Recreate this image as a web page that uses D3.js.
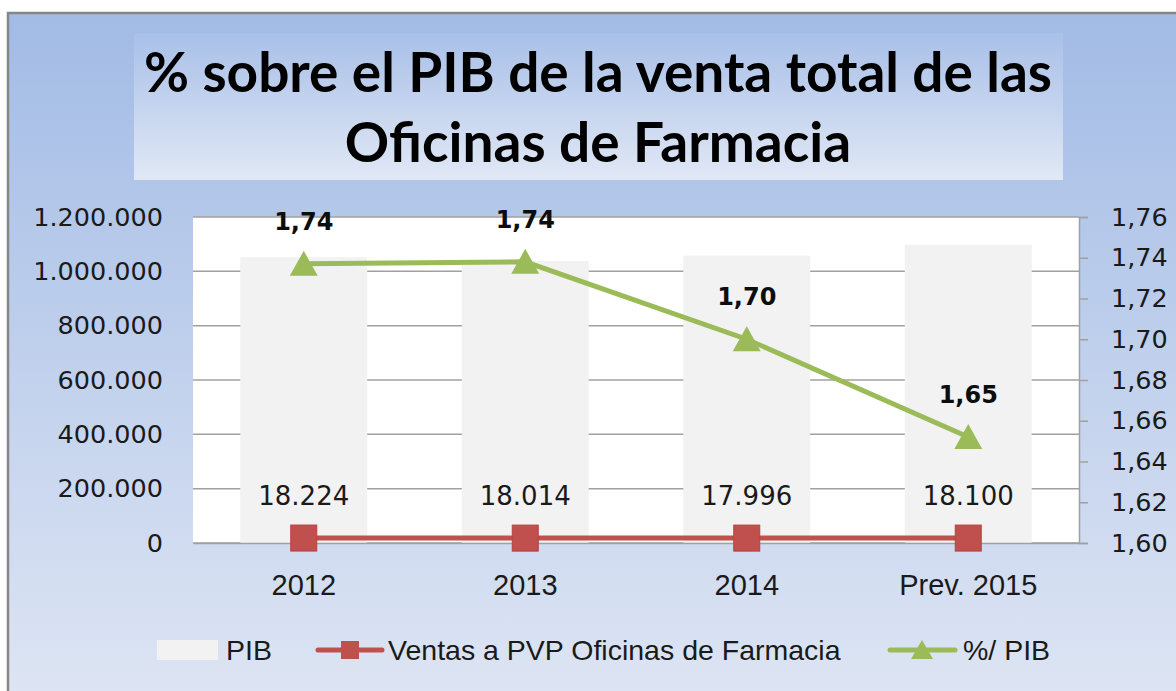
<!DOCTYPE html>
<html>
<head>
<meta charset="utf-8">
<script src="https://cdn.jsdelivr.net/npm/d3@7"></script>
<style>
body{margin:0;background:#fff;}
</style>
</head>
<body>
<script>
// data
var years = ["2012", "2013", "2014", "Prev. 2015"];
var pib = [1052000, 1038000, 1058000, 1098000];
var ventas = [18224, 18014, 17996, 18100];
var pctPib = [1.737, 1.738, 1.700, 1.652];
var leftTicks = [0, 200000, 400000, 600000, 800000, 1000000, 1200000];
var rightTicks = [1.60, 1.62, 1.64, 1.66, 1.68, 1.70, 1.72, 1.74, 1.76];
var titleLines = ["% sobre el PIB de la venta total de las", "Oficinas de Farmacia"];
var legendNames = ["PIB", "Ventas a PVP Oficinas de Farmacia", "%/ PIB"];

draw();
function draw(){
	var es = d3.formatLocale({decimal: ",", thousands: ".", grouping: [3], currency: ["", "€"]});
	var fmtInt = es.format(",d"), fmtPct = es.format(".2f");
	var red = "#c0504d", green = "#9bbb59", grid = "#a0a0a0";
	var sans = "'Liberation Sans', Arial, sans-serif", dj = "'DejaVu Sans', sans-serif";

	var svg = d3.select("body").append("svg")
		.attr("width", 1176).attr("height", 691);

	var defs = svg.append("defs");
	var bg = defs.append("linearGradient").attr("id", "bg")
		.attr("x1", 0).attr("y1", 0).attr("x2", 0).attr("y2", 1);
	bg.append("stop").attr("offset", 0).attr("stop-color", "#a2bbe5");
	bg.append("stop").attr("offset", 1).attr("stop-color", "#dfe6f4");
	var tg = defs.append("linearGradient").attr("id", "tg")
		.attr("x1", 0).attr("y1", 0).attr("x2", 0).attr("y2", 1);
	tg.append("stop").attr("offset", 0).attr("stop-color", "#a9c0e8");
	tg.append("stop").attr("offset", 1).attr("stop-color", "#e1e8f5");

	// frame
	svg.append("rect")
		.attr("x", 8).attr("y", 13).attr("width", 1190).attr("height", 700)
		.attr("fill", "url(#bg)").attr("stroke", "#868686").attr("stroke-width", 2.5);

	// title box
	svg.append("rect")
		.attr("x", 134).attr("y", 33).attr("width", 929).attr("height", 147)
		.attr("fill", "url(#tg)");
	svg.selectAll(".title").data(titleLines).enter().append("text")
		.attr("x", 598).attr("y", function(d, i){ return 92 + i * 70; })
		.attr("text-anchor", "middle")
		.style("font-family", "Lato, 'Open Sans', sans-serif").style("font-weight", "bold")
		.attr("font-size", 55).attr("fill", "#000")
		.text(function(d){ return d; });

	// plot area
	var x0 = 193, x1 = 1079, yTop = 217, yBot = 543;
	svg.append("rect")
		.attr("x", x0).attr("y", yTop).attr("width", x1 - x0).attr("height", yBot - yTop)
		.attr("fill", "#fff");

	var x = d3.scaleBand().domain(years).range([x0, x1])
		.paddingInner(0.427).paddingOuter(0.2135);
	var yL = d3.scaleLinear().domain([0, 1200000]).range([yBot, yTop]);
	var yR = d3.scaleLinear().domain([1.60, 1.76]).range([yBot, yTop]);

	// gridlines
	svg.selectAll(".grid").data(leftTicks).enter().append("line")
		.attr("x1", x0).attr("x2", x1)
		.attr("y1", function(d){ return yL(d); }).attr("y2", function(d){ return yL(d); })
		.attr("stroke", grid).attr("stroke-width", 1.5);

	// left axis labels
	var axL = svg.append("g").attr("transform", "translate(" + x0 + ",0)")
		.call(d3.axisLeft(yL).tickValues(leftTicks).tickFormat(fmtInt).tickSize(0).tickPadding(30));
	axL.select(".domain").remove();
	axL.selectAll("text").style("font-family", dj).attr("font-size", 25.5).attr("fill", "#1a1a1a");

	// right axis
	var axR = svg.append("g").attr("transform", "translate(" + x1 + ",0)")
		.call(d3.axisRight(yR).tickValues(rightTicks).tickFormat(fmtPct).tickSize(9).tickPadding(23));
	axR.select(".domain").attr("stroke", grid).attr("stroke-width", 1.5);
	axR.selectAll("line").attr("stroke", grid).attr("stroke-width", 1.5);
	axR.selectAll("text").style("font-family", dj).attr("font-size", 25.5).attr("fill", "#1a1a1a");

	// PIB bars
	svg.selectAll(".bar").data(pib).enter().append("rect")
		.attr("x", function(d, i){ return x(years[i]); })
		.attr("y", function(d){ return yL(d); })
		.attr("width", x.bandwidth())
		.attr("height", function(d){ return yBot - yL(d); })
		.attr("fill", "#f2f2f2");

	// x axis
	var axB = svg.append("g").attr("transform", "translate(0," + yBot + ")")
		.call(d3.axisBottom(x).tickSize(0).tickPadding(31));
	axB.select(".domain").attr("stroke", grid).attr("stroke-width", 1.5);
	axB.selectAll("text").style("font-family", sans).attr("font-size", 29).attr("fill", "#1a1a1a");

	var cx = function(i){ return x(years[i]) + x.bandwidth() / 2; };

	// ventas line
	var lineV = d3.line().x(function(d, i){ return cx(i); }).y(function(d){ return yL(d); });
	svg.append("path").datum(ventas).attr("d", lineV)
		.attr("fill", "none").attr("stroke", red).attr("stroke-width", 5);
	svg.selectAll(".sq").data(ventas).enter().append("rect")
		.attr("x", function(d, i){ return cx(i) - 13; })
		.attr("y", function(d){ return yL(d) - 13; })
		.attr("width", 26).attr("height", 26)
		.attr("fill", red).attr("stroke", "#b7413e").attr("stroke-width", 1);
	svg.selectAll(".vl").data(ventas).enter().append("text")
		.attr("x", function(d, i){ return cx(i); })
		.attr("y", function(d){ return yL(d) - 33; })
		.attr("text-anchor", "middle")
		.style("font-family", dj).attr("font-size", 26).attr("fill", "#1a1a1a")
		.text(function(d){ return fmtInt(d); });

	// % PIB line
	var lineP = d3.line().x(function(d, i){ return cx(i); }).y(function(d){ return yR(d); });
	svg.append("path").datum(pctPib).attr("d", lineP)
		.attr("fill", "none").attr("stroke", green).attr("stroke-width", 5);
	svg.selectAll(".tri").data(pctPib).enter().append("path")
		.attr("transform", function(d, i){ return "translate(" + cx(i) + "," + yR(d) + ")"; })
		.attr("d", "M0,-13L14,12L-14,12Z")
		.attr("fill", green);
	svg.selectAll(".pl").data(pctPib).enter().append("text")
		.attr("x", function(d, i){ return cx(i); })
		.attr("y", function(d){ return yR(d) - 34; })
		.attr("text-anchor", "middle")
		.style("font-family", dj).style("font-weight", "bold")
		.attr("font-size", 24).attr("fill", "#0d0d0d")
		.text(function(d){ return fmtPct(d); });

	// legend
	var ly = 650;
	svg.append("rect").attr("x", 157).attr("y", ly - 10).attr("width", 61).attr("height", 20).attr("fill", "#f2f2f2");
	svg.append("line").attr("x1", 318).attr("x2", 382).attr("y1", ly).attr("y2", ly)
		.attr("stroke", red).attr("stroke-width", 5).attr("stroke-linecap", "round");
	svg.append("rect").attr("x", 341).attr("y", ly - 9).attr("width", 18).attr("height", 18).attr("fill", red);
	svg.append("line").attr("x1", 890).attr("x2", 955).attr("y1", ly).attr("y2", ly)
		.attr("stroke", green).attr("stroke-width", 5).attr("stroke-linecap", "round");
	svg.append("path").attr("transform", "translate(922," + ly + ")")
		.attr("d", "M0,-10L11,9L-11,9Z").attr("fill", green);
	var lx = [226, 388, 963];
	svg.selectAll(".lg").data(legendNames).enter().append("text")
		.attr("x", function(d, i){ return lx[i]; }).attr("y", ly + 10)
		.style("font-family", sans).attr("font-size", 28.5).attr("fill", "#1a1a1a")
		.text(function(d){ return d; });
}
</script>
</body>
</html>
